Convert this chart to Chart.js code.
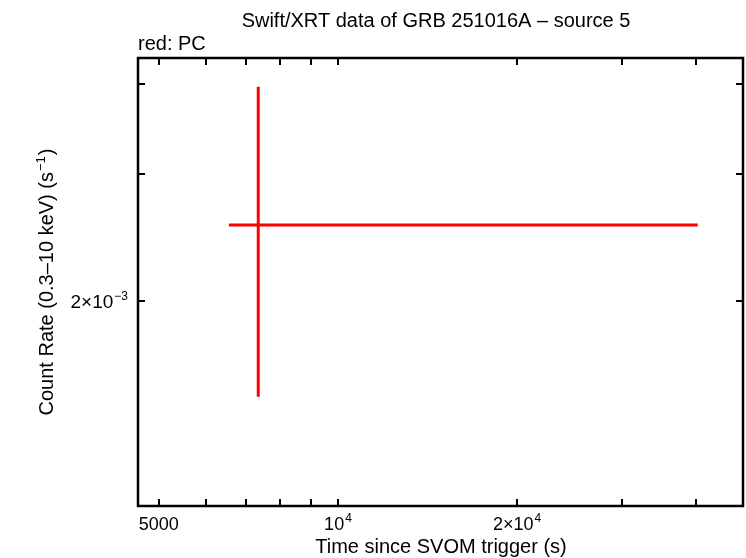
<!DOCTYPE html>
<html>
<head>
<meta charset="utf-8">
<script src="https://cdn.jsdelivr.net/npm/chart.js@4"></script>
<style>
  html, body { margin: 0; padding: 0; background: #fff; }
  canvas { display: block; }
</style>
</head>
<body>
<canvas id="lc" width="746" height="558"></canvas>
<script>
// one PC-mode bin: centre and error extents
const xVal = [7346];
const xLow = [6558];
const xHigh = [40230];
const yVal = [2.549e-3];
const yLow = [1.473e-3];
const yHigh = [3.964e-3];

const xTicks = [5000, 6000, 7000, 8000, 9000, 10000, 20000, 30000, 40000];
const xLabels = { 5000: ['5000', ''], 10000: ['10', '4'], 20000: ['2\u00d710', '4'] };
const yTicks = [0.002, 0.003, 0.004];
const yLabels = { 0.002: ['2\u00d710', '\u22123'] };

const FONT = '"Liberation Sans", Arial, Helvetica, sans-serif';

// label with optional superscript part
function drawSup(ctx, base, sup, x, y, align, size, tail) {
    const ss = Math.round(size * 0.65);
    ctx.font = size + 'px ' + FONT;
    const wb = ctx.measureText(base).width;
    const wt = tail ? ctx.measureText(tail).width + 1 : 0;
    ctx.font = ss + 'px ' + FONT;
    const ws = sup ? ctx.measureText(sup).width + 1 : 0;
    let x0 = x;
    const total = wb + ws + wt;
    if (align === 'center') x0 = x - total / 2;
    if (align === 'right') x0 = x - total;
    ctx.textAlign = 'left';
    ctx.textBaseline = 'alphabetic';
    ctx.font = size + 'px ' + FONT;
    ctx.fillText(base, x0, y);
    if (sup) {
        ctx.font = ss + 'px ' + FONT;
        ctx.fillText(sup, x0 + wb + 1, y - size * 0.42);
    }
    if (tail) {
        ctx.font = size + 'px ' + FONT;
        ctx.fillText(tail, x0 + wb + ws + 1, y);
    }
}

const framePlugin = {
    id: 'frame',
    afterDraw(chart) {
        const ctx = chart.ctx;
        const a = chart.chartArea;
        const xs = chart.scales.x, ys = chart.scales.y;
        ctx.save();
        ctx.fillStyle = '#000';
        ctx.strokeStyle = '#000';

        // frame
        ctx.lineWidth = 2.5;
        ctx.strokeRect(a.left, a.top, a.right - a.left, a.bottom - a.top);

        // inward ticks on all four sides
        ctx.lineWidth = 2;
        const tl = 7;
        ctx.beginPath();
        xTicks.forEach(v => {
            const px = Math.round(xs.getPixelForValue(v));
            ctx.moveTo(px, a.bottom); ctx.lineTo(px, a.bottom - tl);
            ctx.moveTo(px, a.top); ctx.lineTo(px, a.top + tl);
        });
        yTicks.forEach(v => {
            const py = Math.round(ys.getPixelForValue(v));
            ctx.moveTo(a.left, py); ctx.lineTo(a.left + tl, py);
            ctx.moveTo(a.right, py); ctx.lineTo(a.right - tl, py);
        });
        ctx.stroke();

        // tick labels
        xTicks.forEach(v => {
            const l = xLabels[v];
            if (!l) return;
            drawSup(ctx, l[0], l[1], xs.getPixelForValue(v), a.bottom + 24, 'center', 18);
        });
        yTicks.forEach(v => {
            const l = yLabels[v];
            if (!l) return;
            drawSup(ctx, l[0], l[1], a.left - 10, ys.getPixelForValue(v) + 7, 'right', 19);
        });

        // titles
        ctx.font = '20px ' + FONT;
        ctx.textAlign = 'center';
        ctx.textBaseline = 'alphabetic';
        ctx.fillText('Swift/XRT data of GRB 251016A \u2013 source 5', 436, 27);
        ctx.fillText('Time since SVOM trigger (s)', 441, 553);
        ctx.textAlign = 'left';
        ctx.fillText('red: PC', 138, 50);

        // rotated y title with superscript
        ctx.save();
        ctx.translate(53, 282);
        ctx.rotate(-Math.PI / 2);
        drawSup(ctx, 'Count Rate (0.3\u201310 keV) (s', '\u22121', 0, 0, 'center', 20, ')');
        ctx.restore();

        ctx.restore();
    }
};

new Chart(document.getElementById('lc'), {
    type: 'line',
    data: {
        datasets: [
            {
                label: 'PC x-error',
                data: [{ x: xLow[0], y: yVal[0] }, { x: xHigh[0], y: yVal[0] }],
                borderColor: '#ff0000',
                borderWidth: 3,
                pointRadius: 0,
                fill: false
            },
            {
                label: 'PC y-error',
                data: [{ x: xVal[0], y: yLow[0] }, { x: xVal[0], y: yHigh[0] }],
                borderColor: '#ff0000',
                borderWidth: 3,
                pointRadius: 0,
                fill: false
            }
        ]
    },
    options: {
        responsive: false,
        devicePixelRatio: 1,
        animation: false,
        layout: { padding: { left: 0, top: 58, right: 3, bottom: 0 } },
        plugins: {
            legend: { display: false },
            tooltip: { enabled: false }
        },
        scales: {
            x: {
                type: 'logarithmic',
                min: 4613,
                max: 47930,
                grid: { display: false },
                border: { display: false },
                ticks: { display: false },
                afterFit: s => { s.height = 52; }
            },
            y: {
                type: 'logarithmic',
                min: 1.039e-3,
                max: 4.346e-3,
                grid: { display: false },
                border: { display: false },
                ticks: { display: false },
                afterFit: s => { s.width = 138; }
            }
        }
    },
    plugins: [framePlugin]
});
</script>
</body>
</html>
